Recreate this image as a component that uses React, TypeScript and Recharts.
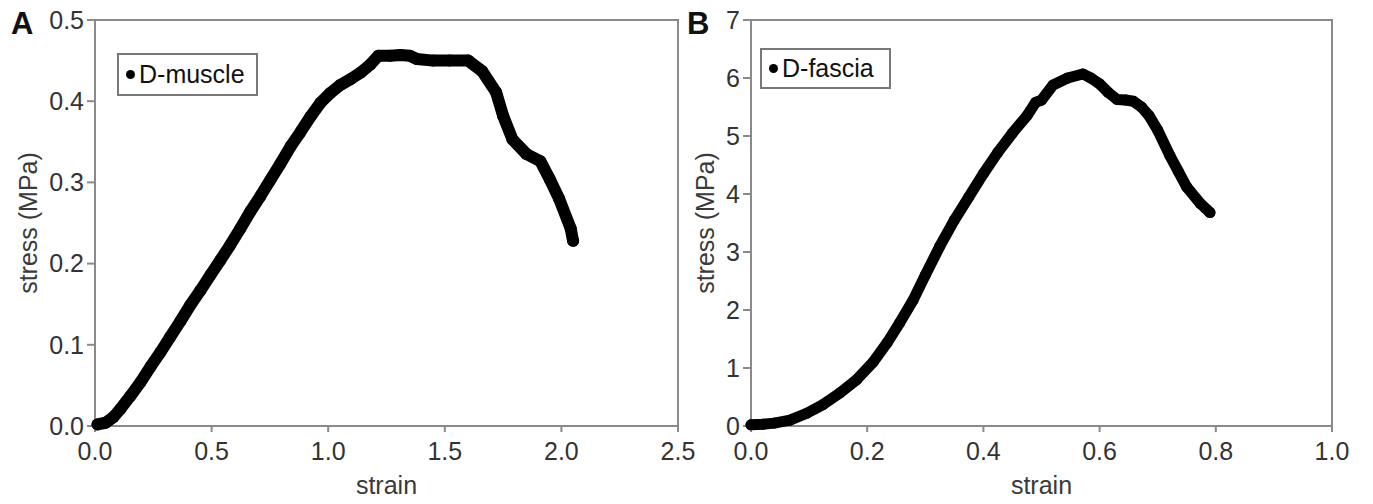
import React from "react";
import {
  ScatterChart,
  Scatter,
  XAxis,
  YAxis,
  ReferenceArea,
  Legend,
  Label,
} from "recharts";

// panel A: D-muscle, strain vs stress (MPa)
const muscleStrain = [
  0.011, 0.045, 0.079, 0.109, 0.152, 0.195, 0.238, 0.281, 0.323, 0.366,
  0.409, 0.452, 0.495, 0.537, 0.58, 0.623, 0.666, 0.709, 0.752, 0.795,
  0.838, 0.881, 0.924, 0.967, 1.009, 1.052, 1.095, 1.138, 1.18, 1.215,
  1.266, 1.31, 1.35, 1.38, 1.45, 1.52, 1.6, 1.66, 1.72, 1.75,
  1.79, 1.85, 1.91, 1.95, 1.99, 2.04, 2.05,
];
const muscleStress = [
  0.002, 0.004, 0.011, 0.021, 0.037, 0.054, 0.073, 0.091, 0.11, 0.129,
  0.149, 0.167, 0.186, 0.204, 0.223, 0.243, 0.264, 0.283, 0.303, 0.323,
  0.344, 0.362, 0.381, 0.398, 0.41, 0.42, 0.427, 0.435, 0.445, 0.456,
  0.456, 0.457, 0.456, 0.452, 0.45, 0.45, 0.45, 0.437, 0.411, 0.382,
  0.353, 0.335, 0.326, 0.304, 0.28, 0.243, 0.228,
];

// panel B: D-fascia
const fasciaStrain = [
  0.0, 0.02, 0.04, 0.067, 0.096, 0.124, 0.153, 0.182, 0.21, 0.234,
  0.256, 0.279, 0.3, 0.325, 0.35, 0.375, 0.4, 0.425, 0.45, 0.475,
  0.49, 0.5, 0.52, 0.545, 0.571, 0.585, 0.6, 0.615, 0.63, 0.645,
  0.658, 0.672, 0.685, 0.7, 0.721, 0.735, 0.75, 0.773, 0.79,
];
const fasciaStress = [
  0.02, 0.03, 0.05, 0.1, 0.22, 0.37, 0.57, 0.8, 1.1, 1.43,
  1.78, 2.17, 2.6, 3.1, 3.55, 3.95, 4.35, 4.72, 5.05, 5.35,
  5.58, 5.62, 5.88, 6.0, 6.07, 6.0, 5.9, 5.75, 5.63, 5.62,
  5.6, 5.5, 5.35, 5.1, 4.66, 4.4, 4.12, 3.84, 3.68,
];

const muscleXTicks = [0, 0.5, 1.0, 1.5, 2.0, 2.5];
const muscleYTicks = [0, 0.1, 0.2, 0.3, 0.4, 0.5];
const fasciaXTicks = [0, 0.2, 0.4, 0.6, 0.8, 1.0];
const fasciaYTicks = [0, 1, 2, 3, 4, 5, 6, 7];

const muscleData = muscleStrain.map((x, i) => ({ x, y: muscleStress[i] }));
const fasciaData = fasciaStrain.map((x, i) => ({ x, y: fasciaStress[i] }));

const FONT = "'Liberation Sans', Arial, sans-serif";
const AXIS = "#8a8a8a";
const tickStyle = { fill: "#333", fontSize: 25, fontFamily: FONT };

function LegendBox({ text, width, height }: { text: string; width: number; height: number }) {
  return (
    <div
      style={{
        boxSizing: "border-box",
        width,
        height,
        border: "2px solid #777",
        display: "flex",
        alignItems: "center",
        paddingLeft: 7,
        background: "#fff",
        fontFamily: FONT,
        fontSize: 25,
        color: "#111",
      }}
    >
      <span
        style={{
          display: "inline-block",
          width: 9,
          height: 9,
          borderRadius: "50%",
          background: "#000",
          marginRight: 4,
        }}
      />
      {text}
    </div>
  );
}

const yLabel = (cx: number) => (props: any) => {
  const vb = props.viewBox;
  const cy = vb.y + vb.height / 2;
  return (
    <text
      x={cx}
      y={cy}
      transform={`rotate(-90, ${cx}, ${cy})`}
      textAnchor="middle"
      dominantBaseline="central"
      fill="#3a3a3a"
      fontSize={25}
      fontFamily={FONT}
    >
      stress (MPa)
    </text>
  );
};

const dot = (r: number) => (p: any) => <circle cx={p.cx} cy={p.cy} r={r} fill="#000" />;

function PanelLetter({ letter, left }: { letter: string; left: number }) {
  return (
    <div
      style={{
        position: "absolute",
        left,
        top: 6,
        fontFamily: FONT,
        fontWeight: "bold",
        fontSize: 31,
        color: "#111",
      }}
    >
      {letter}
    </div>
  );
}

export default function App() {
  return (
    <div style={{ position: "absolute", left: 0, top: 0, width: 1373, height: 504, background: "#fff" }}>
      <div style={{ position: "absolute", left: 0, top: 0 }}>
        <ScatterChart width={700} height={504} margin={{ top: 20, right: 22, bottom: 4, left: 35 }}>
          <XAxis
            type="number"
            dataKey="x"
            domain={[0, 2.5]}
            ticks={muscleXTicks}
            tickFormatter={(v: number) => v.toFixed(1)}
            height={74}
            tickSize={6}
            tickMargin={10}
            tick={tickStyle}
            stroke={AXIS}
            strokeWidth={2}
            tickLine={{ stroke: AXIS, strokeWidth: 2 }}
          >
            <Label value="strain" position="insideBottom" offset={6} fill="#3a3a3a" fontSize={25} fontFamily={FONT} />
          </XAxis>
          <YAxis
            type="number"
            dataKey="y"
            domain={[0, 0.5]}
            ticks={muscleYTicks}
            tickFormatter={(v: number) => v.toFixed(1)}
            width={60}
            tickSize={8}
            tickMargin={3}
            tick={tickStyle}
            stroke={AXIS}
            strokeWidth={2}
            tickLine={{ stroke: AXIS, strokeWidth: 2 }}
            label={{ content: yLabel(28) }}
          />
          <ReferenceArea x1={0} x2={2.5} y1={0} y2={0.5} fill="none" stroke={AXIS} strokeWidth={2} />
          <Legend
            layout="vertical"
            align="center"
            verticalAlign="middle"
            content={() => <LegendBox text="D-muscle" width={141} height={43} />}
            wrapperStyle={{ position: "absolute", left: 117, top: 53, width: "auto" }}
          />
          <Scatter
            name="D-muscle"
            data={muscleData}
            fill="#000"
            line={{ stroke: "#000", strokeWidth: 12, strokeLinejoin: "round", strokeLinecap: "round" }}
            shape={dot(6)}
            isAnimationActive={false}
          />
        </ScatterChart>
      </div>
      <div style={{ position: "absolute", left: 680, top: 0 }}>
        <ScatterChart width={693} height={504} margin={{ top: 20, right: 41, bottom: 4, left: 31 }}>
          <XAxis
            type="number"
            dataKey="x"
            domain={[0, 1]}
            ticks={fasciaXTicks}
            tickFormatter={(v: number) => v.toFixed(1)}
            height={74}
            tickSize={6}
            tickMargin={10}
            tick={tickStyle}
            stroke={AXIS}
            strokeWidth={2}
            tickLine={{ stroke: AXIS, strokeWidth: 2 }}
          >
            <Label value="strain" position="insideBottom" offset={6} fill="#3a3a3a" fontSize={25} fontFamily={FONT} />
          </XAxis>
          <YAxis
            type="number"
            dataKey="y"
            domain={[0, 7]}
            ticks={fasciaYTicks}
            width={40}
            tickSize={8}
            tickMargin={3}
            tick={tickStyle}
            stroke={AXIS}
            strokeWidth={2}
            tickLine={{ stroke: AXIS, strokeWidth: 2 }}
            label={{ content: yLabel(25) }}
          />
          <ReferenceArea x1={0} x2={1} y1={0} y2={7} fill="none" stroke={AXIS} strokeWidth={2} />
          <Legend
            layout="vertical"
            align="center"
            verticalAlign="middle"
            content={() => <LegendBox text="D-fascia" width={131} height={41} />}
            wrapperStyle={{ position: "absolute", left: 80, top: 48, width: "auto" }}
          />
          <Scatter
            name="D-fascia"
            data={fasciaData}
            fill="#000"
            line={{ stroke: "#000", strokeWidth: 11, strokeLinejoin: "round", strokeLinecap: "round" }}
            shape={dot(5.5)}
            isAnimationActive={false}
          />
        </ScatterChart>
      </div>
      <PanelLetter letter="A" left={11} />
      <PanelLetter letter="B" left={687} />
    </div>
  );
}
